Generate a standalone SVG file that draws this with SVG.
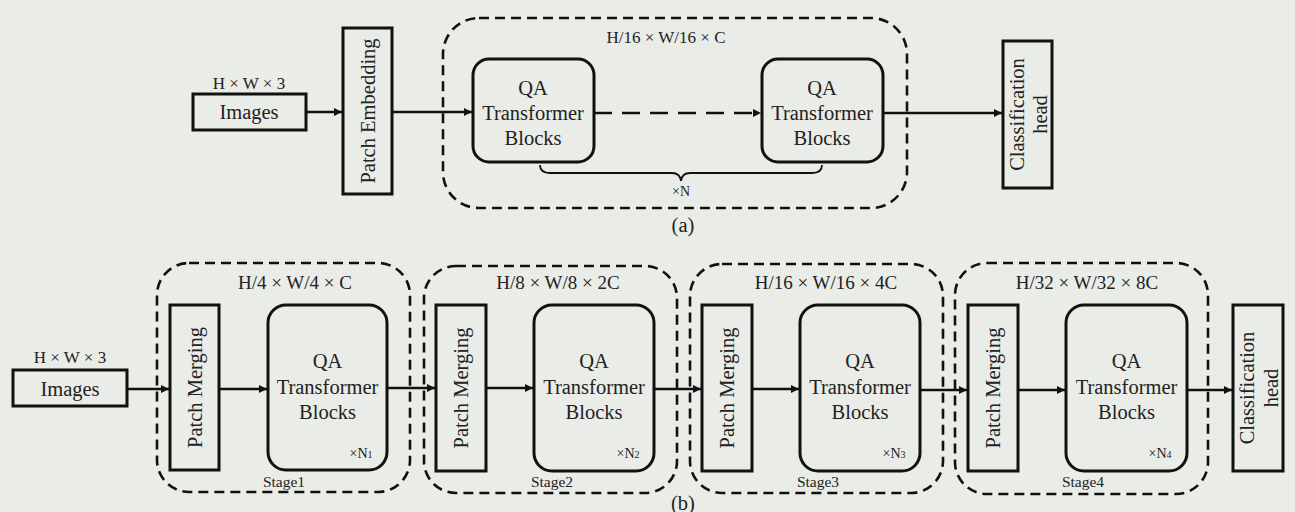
<svg xmlns="http://www.w3.org/2000/svg" width="1295" height="512" viewBox="0 0 1295 512">
<defs>
<marker id="ah" viewBox="0 0 10 10" refX="10" refY="5" markerWidth="9" markerHeight="8" markerUnits="userSpaceOnUse" orient="auto">
<path d="M0,0 L10,5 L0,10 Z" fill="#111"/>
</marker>
<style>
.bg{fill:#eaece7}
.box{fill:none;stroke:#111;stroke-width:3}
.rbox{fill:none;stroke:#111;stroke-width:3}
.dash{fill:none;stroke:#111;stroke-width:2.6;stroke-dasharray:10 6}
.conn{fill:none;stroke:#111;stroke-width:2.4}
text{font-family:'Liberation Serif','Times New Roman','DejaVu Serif',serif;fill:#222;text-anchor:middle}
.big{font-size:20.5px}
.mid{font-size:17px}
.st{font-size:19px}
.sm{font-size:14px}
.lab{font-size:15.5px}
</style>
</defs>
<rect class="bg" x="0" y="0" width="1295" height="512"/>

<!-- (a) -->
<g id="a-container">
<rect class="dash" x="443" y="18" width="464" height="190" rx="36"/>
<text class="mid" x="666" y="43">H/16 × W/16 × C</text>
<text class="big" x="683" y="232">(a)</text>
</g>
<g id="a-images">
<text class="mid" x="249" y="89">H × W × 3</text>
<rect class="box" x="193" y="94" width="113" height="36"/>
<text class="big" x="249" y="119">Images</text>
</g>
<g id="a-patch-embedding">
<rect class="box" x="343" y="28" width="49" height="166"/>
<text class="big" transform="translate(367.5,111) rotate(-90)" x="0" y="7">Patch Embedding</text>
</g>
<g id="a-qa1">
<rect class="rbox" x="473" y="59" width="121" height="103" rx="16"/>
<text class="big" x="533" y="95">QA</text>
<text class="big" x="533" y="120">Transformer</text>
<text class="big" x="533" y="145">Blocks</text>
</g>
<g id="a-qa2">
<rect class="rbox" x="762" y="59" width="121" height="103" rx="16"/>
<text class="big" x="822" y="95">QA</text>
<text class="big" x="822" y="120">Transformer</text>
<text class="big" x="822" y="145">Blocks</text>
</g>
<g id="a-brace">
<path class="conn" style="stroke-width:1.8" d="M540,165 Q540,173 550,173 L672,173 Q680,173 681,181 Q682,173 690,173 L812,173 Q822,173 822,165"/>
<text class="sm" x="681" y="196">×N</text>
</g>
<g id="a-cls-head">
<rect class="box" x="1003" y="41" width="49" height="147"/>
<g transform="translate(1027.5,114.5) rotate(-90)">
<text class="big" x="0" y="-3.5">Classification</text>
<text class="big" x="0" y="19.5">head</text>
</g>
</g>

<!-- (b) -->
<g id="b-images">
<text class="mid" x="70" y="363">H × W × 3</text>
<rect class="box" x="13" y="370" width="114" height="36"/>
<text class="big" x="70" y="396">Images</text>
</g>

<g id="stage1">
<rect class="dash" x="157" y="263" width="253" height="229" rx="32"/>
<text class="st" x="295" y="289">H/4 × W/4 × C</text>
<rect class="box" x="170" y="305" width="49" height="165"/>
<text class="big" transform="translate(194.5,387.5) rotate(-90)" x="0" y="7">Patch Merging</text>
<rect class="rbox" x="268" y="305" width="119" height="165" rx="18"/>
<text class="big" x="327.5" y="368">QA</text>
<text class="big" x="327.5" y="394">Transformer</text>
<text class="big" x="327.5" y="419">Blocks</text>
<text class="sm" x="361" y="458">×N<tspan font-size="10">1</tspan></text>
<text class="lab" x="284" y="487">Stage1</text>
</g>

<g id="stage2">
<rect class="dash" x="424" y="266" width="253" height="227" rx="32"/>
<text class="st" x="558" y="289">H/8 × W/8 × 2C</text>
<rect class="box" x="436" y="305" width="50" height="166"/>
<text class="big" transform="translate(461,388) rotate(-90)" x="0" y="7">Patch Merging</text>
<rect class="rbox" x="534" y="305" width="120" height="166" rx="18"/>
<text class="big" x="594" y="368">QA</text>
<text class="big" x="594" y="394">Transformer</text>
<text class="big" x="594" y="419">Blocks</text>
<text class="sm" x="628" y="458">×N<tspan font-size="10">2</tspan></text>
<text class="lab" x="552" y="487">Stage2</text>
</g>

<g id="stage3">
<rect class="dash" x="690" y="264" width="253" height="229" rx="32"/>
<text class="st" x="826" y="289">H/16 × W/16 × 4C</text>
<rect class="box" x="702" y="305" width="50" height="166"/>
<text class="big" transform="translate(727,388) rotate(-90)" x="0" y="7">Patch Merging</text>
<rect class="rbox" x="800" y="305" width="120" height="166" rx="18"/>
<text class="big" x="860" y="368">QA</text>
<text class="big" x="860" y="394">Transformer</text>
<text class="big" x="860" y="419">Blocks</text>
<text class="sm" x="894" y="458">×N<tspan font-size="10">3</tspan></text>
<text class="lab" x="818" y="487">Stage3</text>
</g>

<g id="stage4">
<rect class="dash" x="955" y="263" width="253" height="231" rx="32"/>
<text class="st" x="1087" y="289">H/32 × W/32 × 8C</text>
<rect class="box" x="968" y="305" width="50" height="166"/>
<text class="big" transform="translate(993,388) rotate(-90)" x="0" y="7">Patch Merging</text>
<rect class="rbox" x="1066" y="305" width="121" height="166" rx="18"/>
<text class="big" x="1126.5" y="368">QA</text>
<text class="big" x="1126.5" y="394">Transformer</text>
<text class="big" x="1126.5" y="419">Blocks</text>
<text class="sm" x="1160" y="458">×N<tspan font-size="10">4</tspan></text>
<text class="lab" x="1083" y="487">Stage4</text>
</g>

<g id="b-cls-head">
<rect class="box" x="1233" y="305" width="50" height="166"/>
<g transform="translate(1258,388) rotate(-90)">
<text class="big" x="0" y="-4">Classification</text>
<text class="big" x="0" y="20">head</text>
</g>
</g>
<text class="big" x="683" y="510">(b)</text>

<g id="connectors">
<line class="conn" x1="306" y1="112" x2="342" y2="112" marker-end="url(#ah)"/>
<line class="conn" x1="392" y1="112" x2="472" y2="112" marker-end="url(#ah)"/>
<line class="conn" x1="594" y1="113" x2="761" y2="113" style="stroke-dasharray:18 10" marker-end="url(#ah)"/>
<line class="conn" x1="883" y1="113" x2="1002" y2="113" marker-end="url(#ah)"/>

<line class="conn" x1="127" y1="389" x2="169" y2="389" marker-end="url(#ah)"/>
<line class="conn" x1="219" y1="389" x2="267" y2="389" marker-end="url(#ah)"/>
<line class="conn" x1="387" y1="388" x2="435" y2="388" marker-end="url(#ah)"/>
<line class="conn" x1="486" y1="388" x2="533" y2="388" marker-end="url(#ah)"/>
<line class="conn" x1="654" y1="389" x2="701" y2="389" marker-end="url(#ah)"/>
<line class="conn" x1="752" y1="389" x2="799" y2="389" marker-end="url(#ah)"/>
<line class="conn" x1="920" y1="390" x2="967" y2="390" marker-end="url(#ah)"/>
<line class="conn" x1="1018" y1="390" x2="1065" y2="390" marker-end="url(#ah)"/>
<line class="conn" x1="1187" y1="390" x2="1232" y2="390" marker-end="url(#ah)"/>
</g>
</svg>
